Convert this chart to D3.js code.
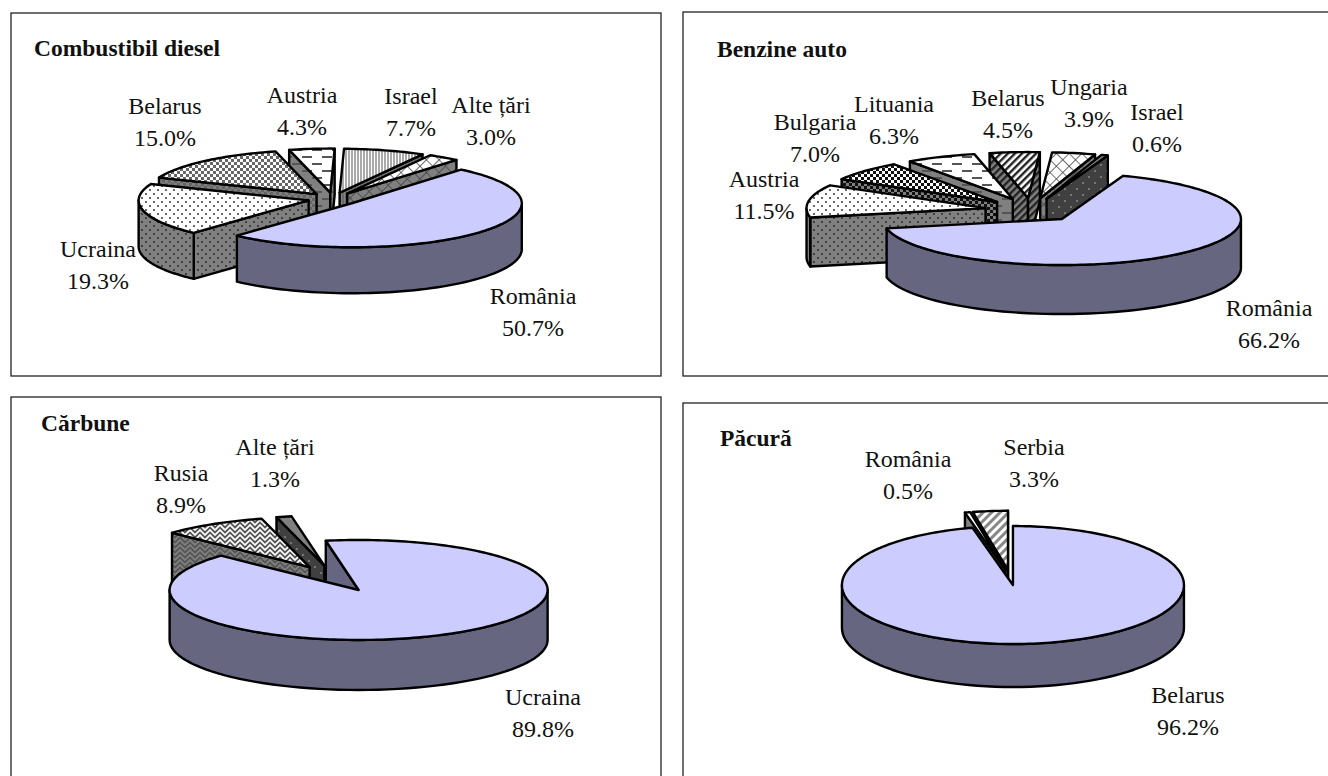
<!DOCTYPE html>
<html lang="ro">
<head>
    <meta charset="UTF-8">
    <title>Import pe tari</title>
    <style>
        body { margin: 0; background: #fff; }
        svg { display: block; }
        text { font-family: "Liberation Serif", serif; font-size: 24px; fill: #111; }
        .title { font-weight: bold; font-size: 23.5px; }
        .frame { fill: #fff; stroke: #222; stroke-width: 1.3px; }
        .face { stroke: #000; stroke-width: 2.4px; stroke-linejoin: round; }
    </style>
</head>
<body>
<script src="https://d3js.org/d3.v7.min.js"></script>
<script>
    // values
    const dieselNames = ['România', 'Ucraina', 'Belarus', 'Austria', 'Israel', 'Alte țări'];
    const dieselValues = [50.7, 19.3, 15.0, 4.3, 7.7, 3.0];
    const benzineNames = ['România', 'Austria', 'Bulgaria', 'Lituania', 'Belarus', 'Ungaria', 'Israel'];
    const benzineValues = [66.2, 11.5, 7.0, 6.3, 4.5, 3.9, 0.6];
    const carbuneNames = ['Ucraina', 'Rusia', 'Alte țări'];
    const carbuneValues = [89.8, 8.9, 1.3];
    const pacuraNames = ['Belarus', 'România', 'Serbia'];
    const pacuraValues = [96.2, 0.5, 3.3];

    const width = 1328;
    const height = 776;

    // layout of the four panels. start is degrees clockwise from the top,
    // explode is a fraction of the radius
    const panels = [
        {
            title: 'Combustibil diesel', titlePos: [34, 56],
            names: dieselNames, values: dieselValues,
            fills: ['main', 'dots', 'check', 'dashes', 'vlines', 'cross'],
            frame: [11, 13, 650, 363],
            cx: 333, cy: 199, rx: 170, ry: 44, depth: 46, start: 40, explode: 0.147,
            labels: [[533, 304], [98, 257], [165, 114], [302, 103], [411, 104], [491, 113]]
        },
        {
            title: 'Benzine auto', titlePos: [717, 57],
            names: benzineNames, values: benzineValues,
            fills: ['main', 'dots', 'checkBold', 'dashes', 'diag', 'cross', 'darkDots'],
            frame: [683, 12, 660, 364],
            cx: 1031.5, cy: 210, rx: 179, ry: 46, depth: 49, start: 20, explode: 0.26,
            labels: [[1269, 316], [764, 187], [815, 130], [894, 112], [1008, 106], [1089, 95], [1157, 120]]
        },
        {
            title: 'Cărbune', titlePos: [41, 431],
            names: carbuneNames, values: carbuneValues,
            fills: ['main', 'zigzag', 'darkDots'],
            frame: [11, 397, 650, 400],
            cx: 335, cy: 578.4, rx: 189, ry: 50, depth: 50, start: 350, explode: 0.263,
            labels: [[543, 705], [181, 481], [275, 455]]
        },
        {
            title: 'Păcură', titlePos: [720, 446],
            names: pacuraNames, values: pacuraValues,
            fills: ['main', 'plain', 'diagLight'],
            frame: [683, 403, 660, 400],
            cx: 1010.3, cy: 577.4, rx: 171, ry: 59, depth: 43, start: 0, explode: 0.13,
            labels: [[1188, 703], [908, 467], [1034, 455]]
        }
    ];

    const svg = d3.select('body').append('svg')
        .attr('width', width)
        .attr('height', height);
    const defs = svg.append('defs');

    // hatch fills, one version for the top of a slice and one for its sides
    const hatches = {
        dots: {top: '#fff', side: '#808080', size: [8, 8], draw: g => {
            [[2, 2], [6, 6]].forEach(p => g.append('circle').attr('cx', p[0]).attr('cy', p[1]).attr('r', 0.9).attr('fill', '#222'));
        }},
        check: {top: '#fff', side: '#808080', size: [6, 6], draw: g => {
            [[0, 0], [3, 3]].forEach(p => g.append('rect').attr('x', p[0]).attr('y', p[1]).attr('width', 3).attr('height', 3).attr('fill', '#666'));
        }},
        checkBold: {top: '#fff', side: '#808080', size: [6, 6], draw: g => {
            [[0, 0], [3, 3]].forEach(p => g.append('rect').attr('x', p[0]).attr('y', p[1]).attr('width', 3).attr('height', 3).attr('fill', '#111'));
        }},
        dashes: {top: '#fff', side: '#808080', size: [20, 14], draw: g => {
            g.append('path').attr('d', 'M2 3H12M12 10H22M-8 10H2').attr('stroke', '#555').attr('stroke-width', 2);
        }},
        vlines: {top: '#fff', side: '#808080', size: [3, 3], draw: g => {
            g.append('path').attr('d', 'M1 0V3').attr('stroke', '#555').attr('stroke-width', 1);
        }},
        cross: {top: '#fff', side: '#808080', size: [9, 9], rotate: 45, draw: g => {
            g.append('path').attr('d', 'M0 0H9M0 0V9').attr('stroke', '#444').attr('stroke-width', 1.6);
        }},
        diag: {top: '#fff', side: '#808080', size: [5, 5], rotate: 45, draw: g => {
            g.append('path').attr('d', 'M1.2 0V5').attr('stroke', '#222').attr('stroke-width', 2.4);
        }},
        diagLight: {top: '#fff', side: '#808080', size: [6, 6], rotate: 45, draw: g => {
            g.append('path').attr('d', 'M1.5 0V6').attr('stroke', '#888').attr('stroke-width', 3);
        }},
        zigzag: {top: '#fff', side: '#808080', size: [10, 10], draw: g => {
            g.append('path').attr('d', 'M-5 7.5L0 2.5L5 7.5L10 2.5L15 7.5M-5 2.5L0 -2.5L5 2.5L10 -2.5L15 2.5M-5 12.5L0 7.5L5 12.5L10 7.5L15 12.5').attr('fill', 'none').attr('stroke', '#555').attr('stroke-width', 1.8);
        }},
        darkDots: {top: '#808080', side: '#404040', size: [12, 12], draw: g => {
            [[3, 3], [9, 9]].forEach(p => g.append('circle').attr('cx', p[0]).attr('cy', p[1]).attr('r', 0.8).attr('fill', '#bbb'));
        }}
    };

    Object.keys(hatches).forEach(name => {
        const h = hatches[name];
        ['top', 'side'].forEach(part => {
            const pat = defs.append('pattern')
                .attr('id', `${name}-${part}`)
                .attr('patternUnits', 'userSpaceOnUse')
                .attr('width', h.size[0])
                .attr('height', h.size[1]);
            if (h.rotate) pat.attr('patternTransform', `rotate(${h.rotate})`);
            pat.append('rect').attr('width', h.size[0]).attr('height', h.size[1]).attr('fill', h[part]);
            h.draw(pat);
        });
    });

    function paint(name, part) {
        if (name === 'main') return part === 'top' ? '#ccccff' : '#666680';
        if (name === 'plain') return part === 'top' ? '#fff' : '#808080';
        return `url(#${name}-${part})`;
    }

    const line = d3.line();

    function drawPanel(p) {
        const f = p.frame;
        svg.append('rect').attr('class', 'frame')
            .attr('x', f[0]).attr('y', f[1]).attr('width', f[2]).attr('height', f[3]);

        svg.append('text').attr('class', 'title')
            .attr('x', p.titlePos[0]).attr('y', p.titlePos[1])
            .text(p.title);

        const scaleX = d3.scaleLinear().domain([-1, 1]).range([-p.rx, p.rx]);
        const scaleY = d3.scaleLinear().domain([-1, 1]).range([-p.ry, p.ry]);
        const start = p.start * Math.PI / 180;
        const pie = d3.pie().sort(null).startAngle(start).endAngle(start + 2 * Math.PI);

        const slices = pie(p.values).map((d, i) => ({
            a0: d.startAngle,
            a1: d.endAngle,
            mid: (d.startAngle + d.endAngle) / 2,
            fill: p.fills[i]
        }));

        // back to front, so nearer slices cover the farther ones
        slices.sort((a, b) => d3.descending(Math.cos(a.mid), Math.cos(b.mid)));

        slices.forEach(s => {
            const ox = p.cx + p.explode * scaleX(Math.sin(s.mid));
            const oy = p.cy - p.explode * scaleY(Math.cos(s.mid));
            const at = (a, dz) => [ox + scaleX(Math.sin(a)), oy - scaleY(Math.cos(a)) + dz];
            const apex = dz => [ox, oy + dz];
            const g = svg.append('g');

            // cut faces are seen only when they turn towards the viewer
            if (Math.sin(s.a0) < 0) {
                g.append('path').attr('class', 'face').attr('fill', paint(s.fill, 'side'))
                    .attr('d', line([apex(0), at(s.a0, 0), at(s.a0, p.depth), apex(p.depth)]) + 'Z');
            }
            if (Math.sin(s.a1) > 0) {
                g.append('path').attr('class', 'face').attr('fill', paint(s.fill, 'side'))
                    .attr('d', line([apex(0), at(s.a1, 0), at(s.a1, p.depth), apex(p.depth)]) + 'Z');
            }

            // outer wall: front half of the rim only
            [-1, 0, 1, 2].forEach(k => {
                const lo = Math.max(s.a0, Math.PI / 2 + k * 2 * Math.PI);
                const hi = Math.min(s.a1, 3 * Math.PI / 2 + k * 2 * Math.PI);
                if (hi <= lo) return;
                const steps = d3.range(0, 61).map(t => lo + (hi - lo) * t / 60);
                const pts = steps.map(a => at(a, 0)).concat(steps.slice().reverse().map(a => at(a, p.depth)));
                g.append('path').attr('class', 'face').attr('fill', paint(s.fill, 'side'))
                    .attr('d', line(pts) + 'Z');
            });

            const n = Math.max(4, Math.ceil((s.a1 - s.a0) * 40));
            const rim = d3.range(0, n + 1).map(t => at(s.a0 + (s.a1 - s.a0) * t / n, 0));
            g.append('path').attr('class', 'face').attr('fill', paint(s.fill, 'top'))
                .attr('d', line([apex(0)].concat(rim)) + 'Z');
        });

        p.names.forEach((name, i) => {
            const pos = p.labels[i];
            const t = svg.append('text')
                .attr('text-anchor', 'middle')
                .attr('transform', `translate(${pos[0]},${pos[1]})`);
            t.append('tspan').attr('x', 0).text(name);
            t.append('tspan').attr('x', 0).attr('dy', 32).text(d3.format('.1f')(p.values[i]) + '%');
        });
    }

    panels.forEach(drawPanel);
</script>
</body>
</html>
